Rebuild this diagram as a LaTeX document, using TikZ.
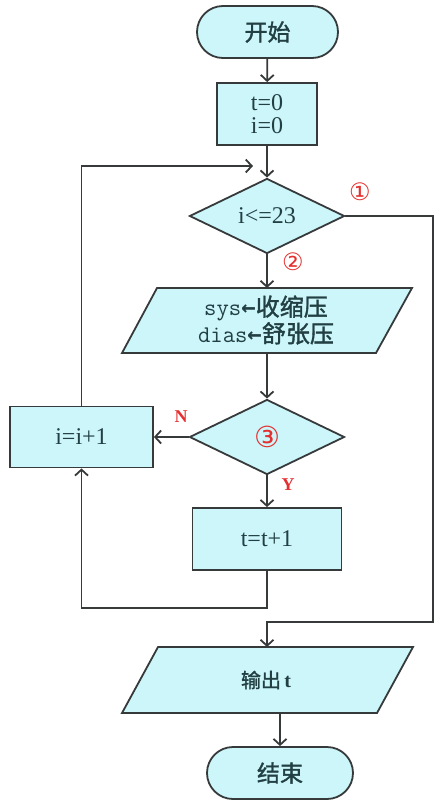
\documentclass[tikz,border=0pt]{standalone}
\usepackage{fontspec}
\newfontfamily\cjk[FakeBold=1.5]{Noto Sans CJK SC}
\newfontfamily\symb{DejaVu Sans}
\newfontfamily\symbmono{DejaVu Sans Mono}
\newfontfamily\serif{Liberation Serif}
\usetikzlibrary{shapes.misc,shapes.geometric,arrows.meta}
\definecolor{boxfill}{RGB}{204,246,250}
\definecolor{edge}{RGB}{55,58,58}
\definecolor{ink}{RGB}{34,64,68}
\definecolor{mark}{RGB}{228,48,48}
\newcommand{\larr}{{\symbmono\bfseries\char"2190}}
\begin{document}
\begin{tikzpicture}[x=1pt,y=-1pt,
  base/.style={draw=edge,line width=1.8pt,fill=boxfill,text=ink,inner sep=0pt},
  term/.style={base,rounded rectangle,font=\cjk\fontsize{23}{26}\selectfont},
  proc/.style={base,rectangle,align=center,font=\serif\fontsize{24}{26}\selectfont},
  dec/.style={base,diamond,minimum width=155pt,minimum height=75pt,font=\serif\fontsize{24}{26}\selectfont},
  io/.style={base},
  flow/.style={draw=edge,line width=1.8pt,-{Straight Barb[length=6pt,width=13pt]}},
  num/.style={text=mark,font=\symb\fontsize{24}{26}\selectfont,inner sep=0pt},
  yn/.style={text=mark,font=\serif\bfseries\fontsize{18}{20}\selectfont,inner sep=0pt}
]
\useasboundingbox (0,0) rectangle (436,801);

% terminals and process boxes
\node[term,minimum width=141pt,minimum height=52pt] (start) at (267.5,32) {开始};
\node[proc,minimum width=100pt,minimum height=62pt] (init) at (267,114) {t=0\\[-3pt]i=0};
\node[dec] (cond) at (267,216) {i<=23};

% input parallelogram
\coordinate (rtl) at (157,288);
\coordinate (rtr) at (412,288);
\coordinate (rbr) at (376,353);
\coordinate (rbl) at (122,353);
\path[io] (rtl) -- (rtr) -- (rbr) -- (rbl) -- cycle;
\node[text=ink,align=center,font=\ttfamily\fontsize{24}{25}\selectfont] (read) at (266,320)
  {sys\larr{\cjk 收缩压}\\dias\larr{\cjk 舒张压}};
\coordinate (readin) at (267,288);
\coordinate (readout) at (267,353);

\node[dec] (chk) at (267,437) {};
\node[num,font=\symb\fontsize{29}{30}\selectfont] (c3) at (chk) {③};
\node[proc,minimum width=143pt,minimum height=61pt] (inc) at (81.5,437) {i=i+1};
\node[proc,minimum width=149pt,minimum height=62pt] (step) at (267,539) {t=t+1};

% output parallelogram
\coordinate (otl) at (158,647);
\coordinate (otr) at (413,647);
\coordinate (obr) at (377,713);
\coordinate (obl) at (122,713);
\path[io] (otl) -- (otr) -- (obr) -- (obl) -- cycle;
\node[text=ink,font=\cjk\fontsize{20}{24}\selectfont] (out) at (266,680) {输出{\serif\bfseries\,t}};
\coordinate (outin) at (267,647);
\coordinate (outout) at (280,713);

\node[term,minimum width=146pt,minimum height=52pt] (stop) at (280,773) {结束};

% loop and exit points
\coordinate (merge) at (253,166);
\coordinate (back) at (267,608);
\coordinate (exitr) at (433,216);
\coordinate (exitb) at (433,622);
\coordinate (exitl) at (267,622);

% connectors
\draw[flow] (start) -- (init);
\draw[flow] (init) -- (cond);
\draw[flow] (inc.north) |- (merge);
\draw[flow] (cond.south) -- (readin);
\draw[flow] (readout) -- (chk.north);
\draw[flow] (chk.west) -- (inc.east);
\draw[flow] (chk.south) -- (step.north);
\draw[flow] (step.south) -- (back) -| (inc.south);
\draw[flow] (cond.east) -- (exitr) -- (exitb) -- (exitl) -- (outin);
\draw[flow] (outout) -- (stop.north);

% branch marks
\node[num] (c1) at (360,192) {①};
\node[num] (c2) at (293,262) {②};
\node[yn] (lblN) at (181,417) {N};
\node[yn] (lblY) at (288,485) {Y};
\end{tikzpicture}
\end{document}
